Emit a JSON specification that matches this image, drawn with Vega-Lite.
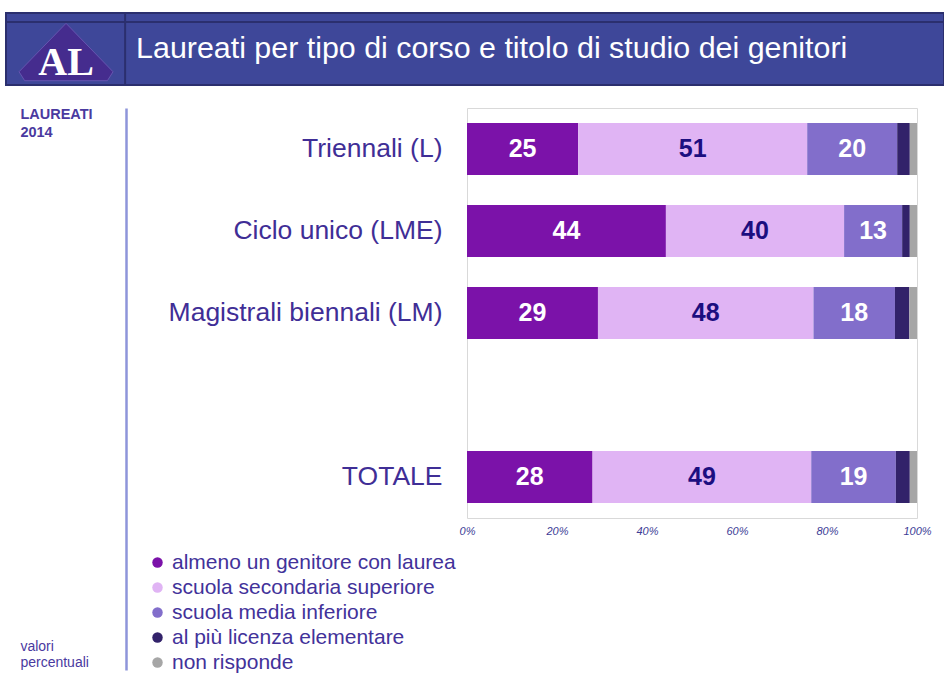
{
  "$schema": "https://vega.github.io/schema/vega-lite/v6.json",
  "padding": {"left": 4, "top": 11, "right": 0, "bottom": 0},
  "background": "white",
  "bounds": "flush",
  "spacing": 23,
  "config": {"view": {"stroke": null}, "font": "Liberation Sans"},
  "vconcat": [
    {
      "width": 938,
      "height": 72,
      "view": {"fill": "#3E4799", "stroke": "#2B2F6E", "strokeWidth": 2},
      "data": {"values": [{"id": 1}]},
      "layer": [
        {
          "mark": {"type": "rule", "color": "#2B2F6E", "strokeWidth": 2},
          "encoding": {
            "y": {"datum": 0.875, "type": "quantitative", "scale": {"domain": [0, 1], "nice": false, "zero": false}, "axis": null}
          }
        },
        {
          "mark": {"type": "rule", "color": "#2B2F6E", "strokeWidth": 2},
          "encoding": {
            "x": {"datum": 0.127, "type": "quantitative", "scale": {"domain": [0, 1], "nice": false, "zero": false}, "axis": null}
          }
        },
        {
          "mark": {"type": "point", "filled": true, "shape": "M0,-0.61L1,0.42L0.88,0.61L-0.88,0.61L-1,0.42Z", "size": 8836, "color": "#452C8E", "stroke": "#6655B0", "strokeWidth": 1, "opacity": 1},
          "encoding": {
            "x": {"datum": 0.064, "type": "quantitative", "scale": {"domain": [0, 1], "nice": false, "zero": false}, "axis": null},
            "y": {"datum": 0.458, "type": "quantitative", "scale": {"domain": [0, 1], "nice": false, "zero": false}, "axis": null}
          }
        },
        {
          "mark": {"type": "text", "text": "AL", "font": "Liberation Serif", "fontWeight": "bold", "fontSize": 40, "color": "white", "align": "center", "baseline": "alphabetic"},
          "encoding": {
            "x": {"datum": 0.064, "type": "quantitative", "scale": {"domain": [0, 1], "nice": false, "zero": false}, "axis": null},
            "y": {"datum": 0.139, "type": "quantitative", "scale": {"domain": [0, 1], "nice": false, "zero": false}, "axis": null}
          }
        },
        {
          "mark": {"type": "text", "text": "Laureati per tipo di corso e titolo di studio dei genitori", "font": "Liberation Sans", "fontSize": 30.4, "color": "white", "align": "left", "baseline": "middle"},
          "encoding": {
            "x": {"datum": 0.1387, "type": "quantitative", "scale": {"domain": [0, 1], "nice": false, "zero": false}, "axis": null},
            "y": {"datum": 0.5, "type": "quantitative", "scale": {"domain": [0, 1], "nice": false, "zero": false}, "axis": null}
          }
        }
      ]
    },
    {
      "bounds": "flush",
      "spacing": 341,
      "hconcat": [
        {
          "width": 120,
          "height": 562,
          "data": {"values": [{"id": 1}]},
          "layer": [
            {
              "mark": {"type": "text", "text": ["LAUREATI", "2014"], "fontWeight": "bold", "fontSize": 14.5, "lineHeight": 18, "color": "#4A3AA0", "align": "left", "baseline": "top"},
              "encoding": {
                "x": {"datum": 0.12, "type": "quantitative", "scale": {"domain": [0, 1], "nice": false, "zero": false}, "axis": null},
                "y": {"datum": 1, "type": "quantitative", "scale": {"domain": [0, 1], "nice": false, "zero": false},
                  "axis": {"orient": "right", "labels": false, "ticks": false, "grid": false, "title": null, "domainColor": "#8E95DA", "domainWidth": 2.5}}
              }
            },
            {
              "mark": {"type": "text", "text": ["valori", "percentuali"], "fontSize": 14, "lineHeight": 16, "color": "#4A3AA0", "align": "left", "baseline": "top"},
              "encoding": {
                "x": {"datum": 0.12, "type": "quantitative", "scale": {"domain": [0, 1], "nice": false, "zero": false}, "axis": null},
                "y": {"datum": 0.0534, "type": "quantitative", "scale": {"domain": [0, 1], "nice": false, "zero": false},
                  "axis": {"orient": "right", "labels": false, "ticks": false, "grid": false, "title": null, "domainColor": "#8E95DA", "domainWidth": 2.5}}
              }
            }
          ]
        },
        {
          "width": 450,
          "height": 410,
          "view": {"stroke": "#D9D9D9", "strokeWidth": 1},
          "data": {
            "values": [
              {"corso": "Triennali (L)", "cat": "almeno un genitore con laurea", "o": 1, "v": 24.7},
              {"corso": "Triennali (L)", "cat": "scuola secondaria superiore", "o": 2, "v": 50.9},
              {"corso": "Triennali (L)", "cat": "scuola media inferiore", "o": 3, "v": 20.0},
              {"corso": "Triennali (L)", "cat": "al più licenza elementare", "o": 4, "v": 2.8},
              {"corso": "Triennali (L)", "cat": "non risponde", "o": 5, "v": 1.6},
              {"corso": "Ciclo unico (LME)", "cat": "almeno un genitore con laurea", "o": 1, "v": 44.2},
              {"corso": "Ciclo unico (LME)", "cat": "scuola secondaria superiore", "o": 2, "v": 39.6},
              {"corso": "Ciclo unico (LME)", "cat": "scuola media inferiore", "o": 3, "v": 12.9},
              {"corso": "Ciclo unico (LME)", "cat": "al più licenza elementare", "o": 4, "v": 1.7},
              {"corso": "Ciclo unico (LME)", "cat": "non risponde", "o": 5, "v": 1.6},
              {"corso": "Magistrali biennali (LM)", "cat": "almeno un genitore con laurea", "o": 1, "v": 29.1},
              {"corso": "Magistrali biennali (LM)", "cat": "scuola secondaria superiore", "o": 2, "v": 47.9},
              {"corso": "Magistrali biennali (LM)", "cat": "scuola media inferiore", "o": 3, "v": 18.1},
              {"corso": "Magistrali biennali (LM)", "cat": "al più licenza elementare", "o": 4, "v": 3.2},
              {"corso": "Magistrali biennali (LM)", "cat": "non risponde", "o": 5, "v": 1.7},
              {"corso": "TOTALE", "cat": "almeno un genitore con laurea", "o": 1, "v": 27.9},
              {"corso": "TOTALE", "cat": "scuola secondaria superiore", "o": 2, "v": 48.6},
              {"corso": "TOTALE", "cat": "scuola media inferiore", "o": 3, "v": 18.8},
              {"corso": "TOTALE", "cat": "al più licenza elementare", "o": 4, "v": 3.1},
              {"corso": "TOTALE", "cat": "non risponde", "o": 5, "v": 1.6}
            ]
          },
          "encoding": {
            "y": {
              "field": "corso", "type": "nominal",
              "scale": {"domain": ["Triennali (L)", "Ciclo unico (LME)", "Magistrali biennali (LM)", " ", "TOTALE"], "paddingInner": 0.366, "paddingOuter": 0.183},
              "axis": {"title": null, "domain": false, "ticks": false, "labelFontSize": 26.5, "labelColor": "#3F2E96", "labelPadding": 25, "labelLimit": 400}
            }
          },
          "layer": [
            {
              "mark": {"type": "bar"},
              "encoding": {
                "x": {
                  "field": "v", "type": "quantitative", "stack": "zero",
                  "scale": {"domain": [0, 100], "nice": false},
                  "axis": {"title": null, "values": [0, 20, 40, 60, 80, 100], "labelExpr": "datum.value + '%'", "labelFlush": false, "labelFontStyle": "italic", "labelFontSize": 11, "labelColor": "#3C3C96", "ticks": false, "domain": false, "grid": false, "labelPadding": 7}
                },
                "color": {
                  "field": "cat", "type": "nominal",
                  "scale": {
                    "domain": ["almeno un genitore con laurea", "scuola secondaria superiore", "scuola media inferiore", "al più licenza elementare", "non risponde"],
                    "range": ["#7B12A9", "#E0B4F4", "#826ECB", "#32226A", "#A6A6A6"]
                  },
                  "legend": {"orient": "none", "legendX": 141, "legendY": 539, "title": null, "symbolType": "circle", "symbolSize": 110, "symbolStrokeWidth": 0, "labelFontSize": 21, "labelColor": "#42329A", "rowPadding": 3, "labelOffset": 4, "labelLimit": 400}
                },
                "order": {"field": "o", "type": "quantitative"}
              }
            },
            {
              "transform": [{"filter": "datum.o <= 3"}],
              "mark": {"type": "text", "fontSize": 25, "fontWeight": "bold", "baseline": "middle", "align": "center"},
              "encoding": {
                "x": {"field": "v", "type": "quantitative", "stack": "zero", "bandPosition": 0.5},
                "text": {"field": "v", "type": "quantitative", "format": ".0f"},
                "detail": {"field": "cat"},
                "order": {"field": "o", "type": "quantitative"},
                "color": {"condition": {"test": "datum.o == 2", "value": "#1C0E80"}, "value": "white"}
              }
            }
          ]
        }
      ]
    }
  ]
}
